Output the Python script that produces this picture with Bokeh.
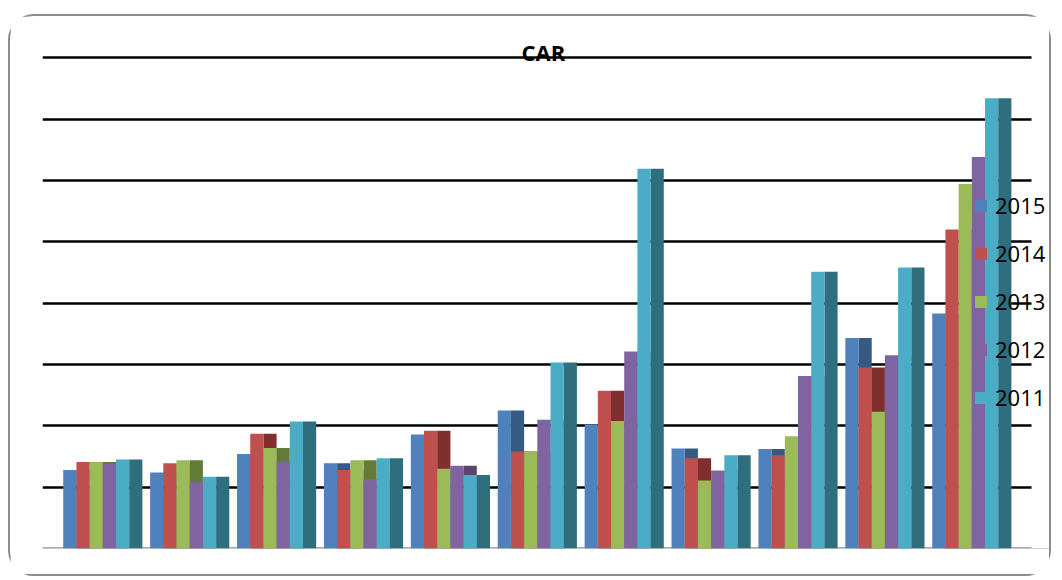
from bokeh.plotting import figure
from bokeh.models import ColumnDataSource, Range1d, FixedTicker, Span, Label, Legend, LegendItem, BoxAnnotation
from bokeh.transform import dodge
from bokeh.embed import file_html
from bokeh.resources import INLINE

# ---- data (vertical unit = one gridline step) ----
categories = [str(i) for i in range(1, 12)]
series = ["2015", "2014", "2013", "2012", "2011"]
v2015 = [1.28, 1.24, 1.54, 1.39, 1.86, 2.25, 2.02, 1.63, 1.62, 3.43, 3.83]
v2014 = [1.41, 1.39, 1.87, 1.28, 1.92, 1.58, 2.57, 1.47, 1.52, 2.95, 5.20]
v2013 = [1.41, 1.44, 1.64, 1.44, 1.30, 1.58, 2.08, 1.11, 1.83, 2.23, 5.94]
v2012 = [1.38, 1.09, 1.41, 1.13, 1.35, 2.10, 3.21, 1.27, 2.81, 3.15, 6.38]
v2011 = [1.45, 1.17, 2.07, 1.47, 1.20, 3.03, 6.19, 1.52, 4.51, 4.58, 7.34]
grid_ticks = [1, 2, 3, 4, 5, 6, 7, 8]

front_colors = ["#4F81BD", "#C0504D", "#9BBB59", "#8064A2", "#4BACC6"]
side_colors = ["#375A85", "#7F302E", "#647B37", "#57446F", "#2F6E7D"]

values = [v2015, v2014, v2013, v2012, v2011]
src = ColumnDataSource(dict(x=list(range(len(categories))), cat=categories,
                            **{s: v for s, v in zip(series, values)}))

x_start = -0.694
plot_end = 10.687   # where the gridlines stop
p = figure(width=1043, height=562, output_backend="svg", toolbar_location=None,
           x_range=Range1d(x_start, 10.917), y_range=Range1d(0, 8.28),
           min_border_left=32, min_border_right=2, min_border_top=24, min_border_bottom=30)
p.margin = (14, 0, 0, 8)
p.styles = {"border": "2px solid #8c8c8c", "border-radius": "26px"}
p.outline_line_color = None
p.xaxis.visible = False
p.yaxis.visible = False
p.xgrid.visible = False
p.yaxis.ticker = FixedTicker(ticks=grid_ticks)
p.ygrid.ticker = FixedTicker(ticks=grid_ticks)
p.ygrid.grid_line_color = "black"
p.ygrid.grid_line_width = 2.5

p.add_layout(Span(location=0, dimension="width", line_color="#8c8c8c", line_width=2.5,
                  level="underlay"))
# mask the gridlines to the right of the plot area (legend zone)
p.add_layout(BoxAnnotation(left=plot_end, fill_color="white", fill_alpha=1.0,
                           line_color=None, level="underlay"))

group_w = 0.911
w = group_w / (len(series) + 1)
items = []
for i, s in enumerate(series):
    off_front = -group_w / 2 + w * (i + 0.5)
    off_side = off_front + w
    p.vbar(x=dodge("x", off_side, range=p.x_range), top=s, width=w, source=src,
           fill_color=side_colors[i], line_color=None)
    r = p.vbar(x=dodge("x", off_front, range=p.x_range), top=s, width=w, source=src,
               fill_color=front_colors[i], line_color=None)
    items.append(LegendItem(label=s, renderers=[r]))

legend = Legend(items=items, location=(931, 136), padding=0, margin=0,
                background_fill_alpha=0, border_line_color=None,
                glyph_width=15, glyph_height=15, label_standoff=7, spacing=18,
                label_text_font="Open Sans", label_text_font_size="22px",
                label_text_color="black")
p.add_layout(legend)

p.add_layout(Label(x=5.07, y=8.10, text="CAR", text_align="center", text_baseline="middle",
                   text_font="Open Sans", text_font_style="bold", text_font_size="22px",
                   text_color="black"))

open("out.html", "w").write(file_html(p, INLINE))
